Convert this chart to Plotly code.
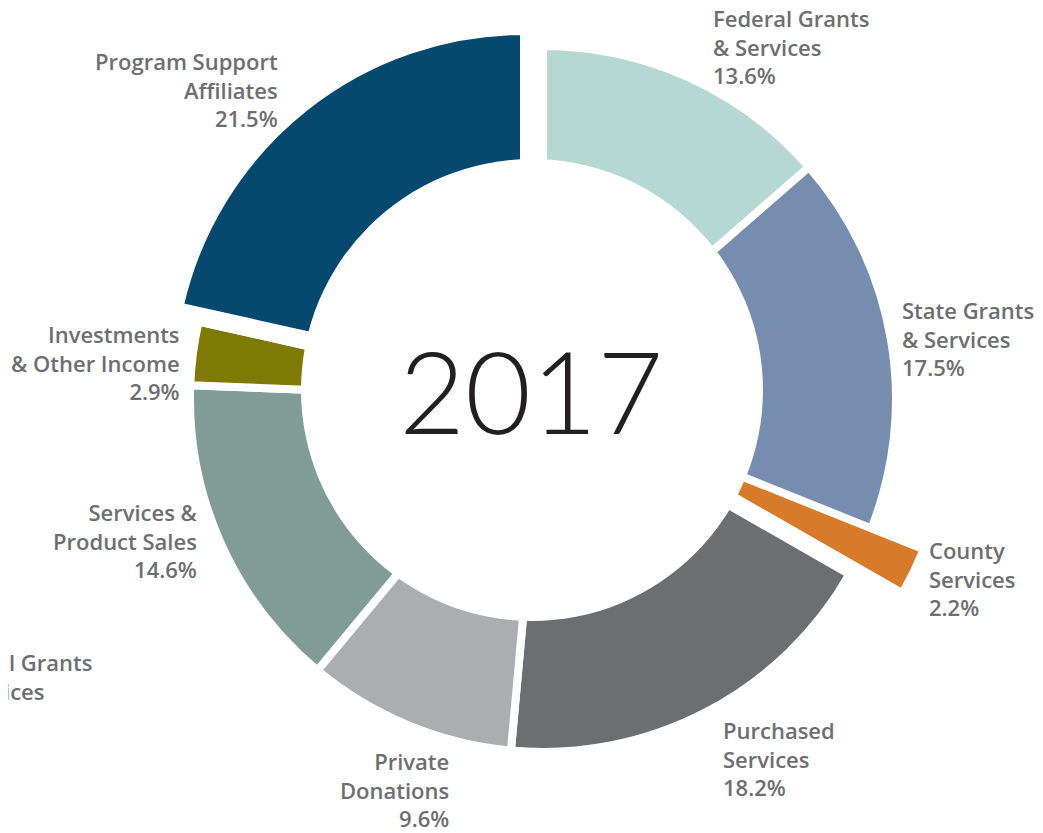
import plotly.graph_objects as go

# ---- data ----
categories = [
    "Federal Grants & Services",
    "State Grants & Services",
    "County Services",
    "Purchased Services",
    "Private Donations",
    "Services & Product Sales",
    "Investments & Other Income",
    "Program Support Affiliates",
]
shares = [13.6, 17.5, 2.2, 18.2, 9.6, 14.6, 2.9, 21.5]
label_lines = [
    ["Federal Grants", "& Services"],
    ["State Grants", "& Services"],
    ["County", "Services"],
    ["Purchased", "Services"],
    ["Private", "Donations"],
    ["Services &", "Product Sales"],
    ["Investments", "& Other Income"],
    ["Program Support", "Affiliates"],
]
year_label = "2017"
neighbour_label = ["Federal Grants", "& Services"]   # cut-off label of the adjacent chart

# ---- style ----
PAGE_W, PAGE_H = 1043, 833
BODY = 8                      # default page margin around the plot div
W, H = PAGE_W - BODY, PAGE_H - BODY
colors = ["#b5d8d2", "#778db0", "#d77a29", "#6d6e72",
          "#acadb0", "#819c97", "#7e7a03", "#05496f"]
TRANSPARENT = "rgba(0,0,0,0)"
GAP = 8
R = 353
FONT = "Open Sans"
TEXT_COLOR = "#6d6e71"


def px(x):
    return (x - BODY) / W


def py(y):
    return 1 - (y - BODY) / H


def dom(cx, cy, r):
    return dict(x=[px(cx - r), px(cx + r)], y=[py(cy + r), py(cy - r)])


pulled = {2: (596, 418), 7: (524, 384)}   # slice index -> pulled centre (page px)
hole_for = {2: 0.4, 7: 0.6}

fig = go.Figure()

# base ring (pulled slices left transparent here)
base_colors = [TRANSPARENT if i in pulled else c for i, c in enumerate(colors)]
fig.add_trace(go.Pie(
    labels=categories, values=shares, sort=False, direction="clockwise",
    rotation=0, hole=0.6, textinfo="none", hoverinfo="label+percent",
    marker=dict(colors=base_colors, line=dict(color="white", width=GAP)),
    domain=dom(543, 399, R), showlegend=False,
))

# pulled-out slices
for idx, (cx, cy) in pulled.items():
    cols = [colors[i] if i == idx else TRANSPARENT for i in range(len(colors))]
    widths = [GAP if i == idx else 0 for i in range(len(colors))]
    fig.add_trace(go.Pie(
        labels=categories, values=shares, sort=False, direction="clockwise",
        rotation=0, hole=hole_for[idx], textinfo="none", hoverinfo="skip",
        marker=dict(colors=cols, line=dict(color="white", width=widths)),
        domain=dom(cx, cy, R), showlegend=False,
    ))

# donut hole
icx, icy, ir = 532, 390, 231
fig.add_shape(type="circle", xref="paper", yref="paper",
              x0=px(icx - ir), x1=px(icx + ir),
              y0=py(icy + ir), y1=py(icy - ir),
              fillcolor="white", line=dict(width=0), layer="above")

# label placement: (x px, middle-line y px, anchor)
label_pos = [
    (711, 47, "left"),
    (900, 339, "left"),
    (927, 578, "left"),
    (721, 758, "left"),
    (451, 789, "right"),
    (200, 540, "right"),
    (182, 362, "right"),
    (280, 90, "right"),
]
label_font = dict(family=FONT, size=22, color=TEXT_COLOR, weight=600)
for lines, v, (x, y, anc) in zip(label_lines, shares, label_pos):
    txt = "<br>".join(lines + [f"{v:.1f}%"])
    fig.add_annotation(x=px(x), y=py(y), xref="paper", yref="paper",
                       text=txt, showarrow=False, xanchor=anc, yanchor="middle",
                       align=anc, font=label_font)

fig.add_annotation(x=px(-66), y=py(676), xref="paper", yref="paper",
                   text="<br>".join(neighbour_label), showarrow=False,
                   xanchor="left", yanchor="middle", align="left", font=label_font)

fig.add_annotation(x=px(531), y=py(389), xref="paper", yref="paper",
                   text=year_label, showarrow=False, xanchor="center", yanchor="middle",
                   font=dict(family="Lato", size=114, color="#231f20", weight=300))

fig.update_layout(width=W, height=H, margin=dict(l=0, r=0, t=0, b=0),
                  paper_bgcolor="white", plot_bgcolor="white")

fig.write_html("out.html")
